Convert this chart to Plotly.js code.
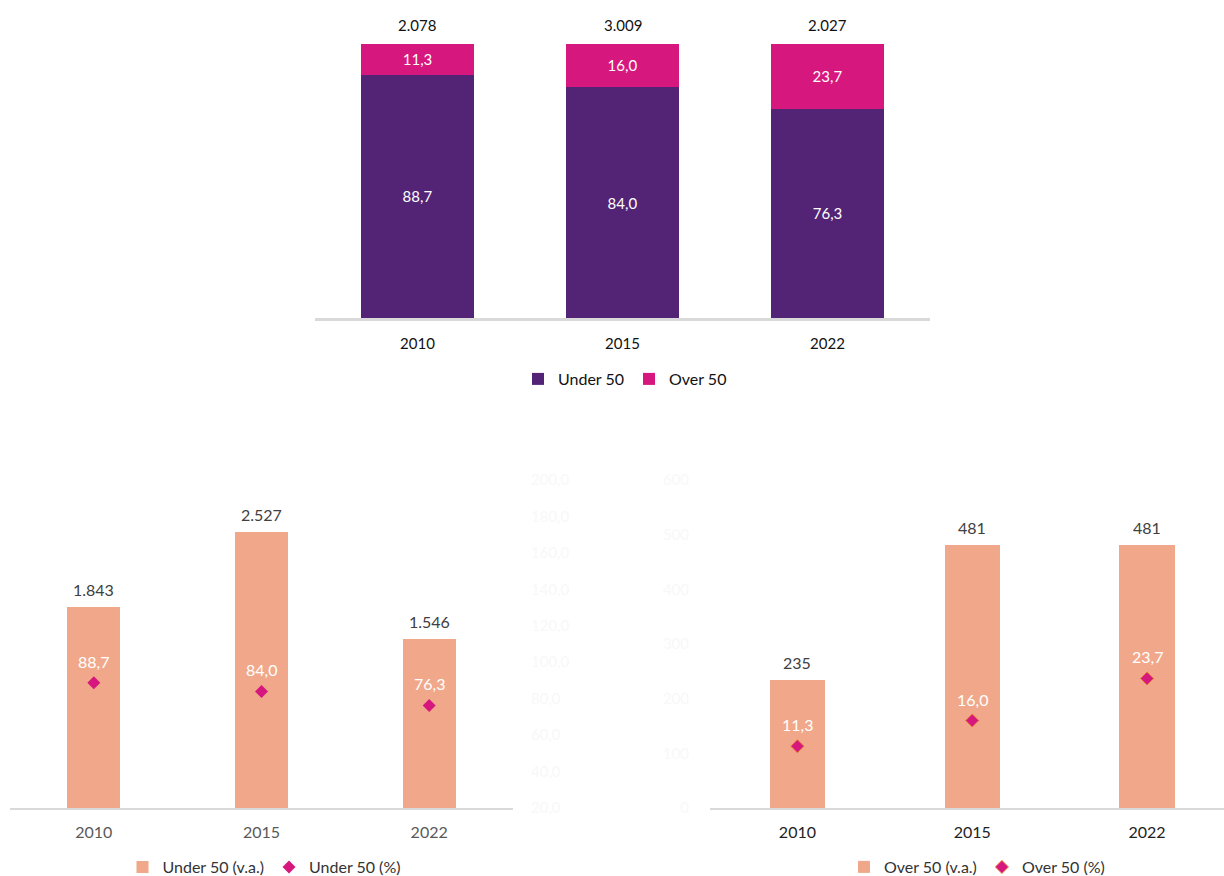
<!DOCTYPE html>
<html>
<head>
<meta charset="utf-8">
<script src="https://cdn.plot.ly/plotly-3.0.1.min.js"></script>
<style>html,body{margin:0;padding:0;background:#fff;overflow:hidden;}#chart{width:1224px;height:876px;}</style>
</head>
<body>
<div id="chart"></div>
<script>
// ---- data ----
const years = ['2010', '2015', '2022'];
const sharesUnder = [88.7, 84.0, 76.3];
const sharesOver = [11.3, 16.0, 23.7];
const totals = [2078, 3009, 2027];
const countUnder = [1843, 2527, 1546];
const countOver = [235, 481, 481];
const ghostLeftTicks = [20, 40, 60, 80, 100, 120, 140, 160, 180, 200];
const ghostRightTicks = [0, 100, 200, 300, 400, 500, 600];

// ---- helpers ----
const W = 1224, H = 876;
const px = v => v / W;
const py = v => (H - v) / H;
function fmtInt(n) { return String(Math.round(n)).replace(/\B(?=(\d{3})+(?!\d))/g, '.'); }
function fmtDec(v) { return v.toFixed(1).replace('.', ','); }

const PURPLE = '#532476', MAGENTA = '#D6177E', SALMON = '#F1A88A';
const FONT = 'Lato, "Open Sans", sans-serif';
const GHOST = '#f8f8f8';
const BF = 16; // bottom charts font size

const traces = [
  { type: 'bar', x: years, y: sharesUnder, name: 'Under 50', marker: { color: PURPLE },
    width: 0.55, xaxis: 'x', yaxis: 'y', texttemplate: '%{y:.1f}', textposition: 'inside',
    insidetextanchor: 'middle', textangle: 0, constraintext: 'none',
    textfont: { color: '#ffffff', size: 15, family: FONT }, legend: 'legend', hoverinfo: 'skip' },
  { type: 'bar', x: years, y: sharesOver, name: 'Over 50', marker: { color: MAGENTA },
    width: 0.55, xaxis: 'x', yaxis: 'y', texttemplate: '%{y:.1f}', textposition: 'inside',
    insidetextanchor: 'middle', textangle: 0, constraintext: 'none',
    textfont: { color: '#ffffff', size: 15, family: FONT }, legend: 'legend', hoverinfo: 'skip' },

  { type: 'bar', x: years, y: countUnder, name: 'Under 50 (v.a.)', marker: { color: SALMON },
    width: 0.316, xaxis: 'x2', yaxis: 'y2', legend: 'legend2', hoverinfo: 'skip' },
  { type: 'scatter', mode: 'markers', x: years, y: sharesUnder, name: 'Under 50 (%)',
    marker: { symbol: 'diamond', size: 10, color: MAGENTA }, xaxis: 'x2', yaxis: 'y3',
    legend: 'legend2', hoverinfo: 'skip', cliponaxis: false },

  { type: 'bar', x: years, y: countOver, name: 'Over 50 (v.a.)', marker: { color: SALMON },
    width: 0.317, xaxis: 'x3', yaxis: 'y4', legend: 'legend3', hoverinfo: 'skip' },
  { type: 'scatter', mode: 'markers', x: years, y: sharesOver, name: 'Over 50 (%)',
    marker: { symbol: 'diamond', size: 10, color: MAGENTA, line: { color: '#E8743B', width: 1 } },
    xaxis: 'x3', yaxis: 'y5', legend: 'legend3', hoverinfo: 'skip', cliponaxis: false }
];

// annotations positioned by category index on the category axes
const annotations = [];
years.forEach((yr, i) => {
  annotations.push({ x: i, y: sharesUnder[i] + sharesOver[i], xref: 'x', yref: 'y', text: fmtInt(totals[i]),
    showarrow: false, yanchor: 'bottom', yshift: 8, font: { size: 15, color: '#111111', family: FONT } });
  annotations.push({ x: i, y: countUnder[i], xref: 'x2', yref: 'y2', text: fmtInt(countUnder[i]),
    showarrow: false, yanchor: 'bottom', yshift: 6, font: { size: BF, color: '#404040', family: FONT } });
  annotations.push({ x: i, y: sharesUnder[i], xref: 'x2', yref: 'y3', text: fmtDec(sharesUnder[i]),
    showarrow: false, yanchor: 'bottom', yshift: 10, font: { size: BF, color: '#ffffff', family: FONT } });
  annotations.push({ x: i, y: countOver[i], xref: 'x3', yref: 'y4', text: fmtInt(countOver[i]),
    showarrow: false, yanchor: 'bottom', yshift: 6, font: { size: BF, color: '#404040', family: FONT } });
  annotations.push({ x: i, y: sharesOver[i], xref: 'x3', yref: 'y5', text: fmtDec(sharesOver[i]),
    showarrow: false, yanchor: 'bottom', yshift: 10, font: { size: BF, color: '#ffffff', family: FONT } });
});

const topDom = [py(318), py(43.5)];
const botDom = [py(808), py(480)];

const layout = {
  width: W, height: H, margin: { l: 0, r: 0, t: 0, b: 0, autoexpand: false },
  paper_bgcolor: '#ffffff', plot_bgcolor: 'rgba(0,0,0,0)',
  separators: ',.', barmode: 'stack', font: { family: FONT, size: 15, color: '#333333' },
  showlegend: true, hovermode: false,
  xaxis: { domain: [px(315), px(930)], anchor: 'y', type: 'category', range: [-0.5, 2.5],
    showline: true, linecolor: '#d9d9d9', linewidth: 3, ticks: '', showgrid: false, zeroline: false,
    tickfont: { size: 15, color: '#111111' }, ticklabelstandoff: 10, fixedrange: true },
  yaxis: { domain: topDom, anchor: 'x', range: [0, 100], visible: false, fixedrange: true },

  xaxis2: { domain: [px(10), px(513)], anchor: 'y2', type: 'category', range: [-0.5, 2.5],
    showline: true, linecolor: '#d9d9d9', linewidth: 1.5, ticks: '', showgrid: false, zeroline: false,
    tickfont: { size: BF, color: '#595959' }, ticklabelstandoff: 9, fixedrange: true },
  yaxis2: { domain: botDom, anchor: 'x2', range: [0, 3000], visible: false, fixedrange: true },
  yaxis3: { overlaying: 'y2', side: 'right', anchor: 'x2', range: [20, 200], tickvals: ghostLeftTicks,
    tickformat: '.1f', showgrid: false, zeroline: false, showline: false, ticks: '',
    tickfont: { size: 15, color: GHOST }, ticklabelstandoff: 17, fixedrange: true },

  xaxis3: { domain: [px(710), 1], anchor: 'y4', type: 'category', range: [-0.5, 2.44],
    showline: true, linecolor: '#d9d9d9', linewidth: 1.5, ticks: '', showgrid: false, zeroline: false,
    tickfont: { size: BF, color: '#222222' }, ticklabelstandoff: 9, fixedrange: true },
  yaxis4: { domain: botDom, anchor: 'x3', side: 'left', range: [0, 600], tickvals: ghostRightTicks,
    showgrid: false, zeroline: false, showline: false, ticks: '',
    tickfont: { size: 15, color: GHOST }, ticklabelstandoff: 20, fixedrange: true },
  yaxis5: { overlaying: 'y4', side: 'right', anchor: 'x3', range: [0, 60], visible: false, fixedrange: true },

  legend: { orientation: 'h', x: px(625), xanchor: 'center', y: py(379), yanchor: 'middle',
    font: { size: 16, color: '#111111' }, itemwidth: 30, traceorder: 'normal', bgcolor: 'rgba(0,0,0,0)' },
  legend2: { orientation: 'h', x: px(264), xanchor: 'center', y: py(867), yanchor: 'middle',
    font: { size: BF, color: '#333333' }, itemwidth: 30, traceorder: 'normal', bgcolor: 'rgba(0,0,0,0)' },
  legend3: { orientation: 'h', x: px(977), xanchor: 'center', y: py(867), yanchor: 'middle',
    font: { size: BF, color: '#333333' }, itemwidth: 30, traceorder: 'normal', bgcolor: 'rgba(0,0,0,0)' },
  annotations: annotations
};

Plotly.newPlot('chart', traces, layout, { displayModeBar: false, staticPlot: true });
</script>
</body>
</html>
